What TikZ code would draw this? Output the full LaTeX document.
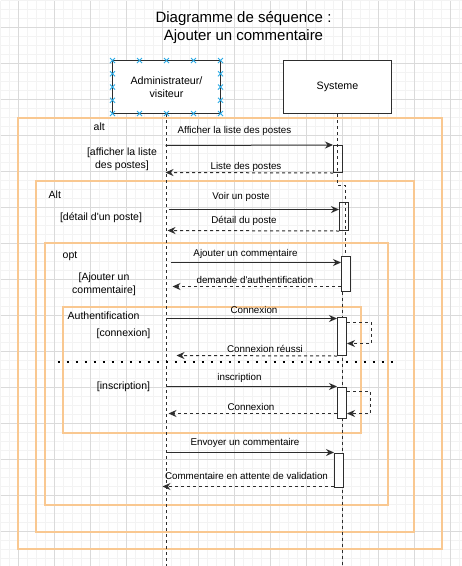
\documentclass[tikz,border=0pt]{standalone}
\usepackage{fontspec}
\setmainfont{Liberation Sans}
\usetikzlibrary{arrows.meta}
\usetikzlibrary{positioning}

\definecolor{framecol}{RGB}{249,200,145}
\definecolor{handlecol}{RGB}{41,170,230}
\definecolor{gridminor}{RGB}{243,243,243}
\definecolor{gridmajor}{RGB}{218,218,218}
\definecolor{linecol}{RGB}{45,45,45}

\tikzset{
	actor/.style={draw=linecol, line width=1pt, fill=white, minimum width=108pt, minimum height=53pt, align=center, font=\fontsize{10.7}{13}\selectfont},
	lifeline/.style={draw=linecol, line width=0.9pt, dash pattern=on 3pt off 3pt},
	activation/.style={draw=linecol, line width=1pt, fill=white, minimum width=9pt, inner sep=0pt},
	msg/.style={draw=linecol, line width=1pt, -{Stealth[length=8pt,width=7pt]}},
	ret/.style={msg, dash pattern=on 3pt off 3pt},
	fragbox/.style={draw=framecol, line width=2pt},
	msglabel/.style={font=\fontsize{9.8}{11}\selectfont, inner sep=0pt, text height=7pt, text depth=2pt},
	guard/.style={font=\fontsize{10.5}{13}\selectfont, align=center, inner sep=0pt},
	title/.style={font=\fontsize{15}{18}\selectfont, align=center, inner sep=0pt}
}

\begin{document}
\begin{tikzpicture}[x=1pt,y=-1pt]
	\useasboundingbox (0,0) rectangle (462,566);
	\fill[white] (0,0) rectangle (462,566);
	\begin{scope}[shift={(0.5,0.5)}]
	\draw[gridminor, step=9pt] (0,566) grid (462,0);
	\draw[gridmajor, step=36pt, shift={(18,27)}] (-18,539) grid (444,-27);
	\end{scope}
	
	\draw[fragbox] (18,118) rectangle (442,549);
	\draw[fragbox] (36,181) rectangle (414,532);
	\draw[fragbox] (45,243) rectangle (388,505);
	\draw[fragbox] (63,307) rectangle (361,433);
	
	\begin{scope}[shift={(0.5,0.5)}]
	\node[title] (title) at (243,27) {Diagramme de séquence :\\Ajouter un commentaire};
	
	\node[actor] (admin) at (166,86.5) {Administrateur/\\visiteur};
	\node[actor] (sys) at (337,86.5) {Systeme};
	
	\path (166,566) coordinate(aEnd)
	(337,185) coordinate(s1)
	(345,185) coordinate(s2)
	(345,256) coordinate(s3)
	(342,291) coordinate(s4)
	(342,566) coordinate(sEnd);
	\draw[lifeline] (admin.south) -- (aEnd);
	\draw[lifeline] (sys.south) -- (s1) -- (s2) -- (s3);
	\draw[lifeline] (s4) -- (sEnd);
	
	\foreach \hx in {112,139,166,193,220}
	\foreach \hy in {60,113}
	\draw[handlecol, line width=0.8pt] (\hx,\hy) +(-2.5,-2.5) -- +(2.5,2.5) +(-2.5,2.5) -- +(2.5,-2.5);
	\foreach \hx in {112,220}
	\foreach \hy in {73.25,86.5,99.75}
	\draw[handlecol, line width=0.8pt] (\hx,\hy) +(-2.5,-2.5) -- +(2.5,2.5) +(-2.5,2.5) -- +(2.5,-2.5);
	
	\node[activation, fill=none, minimum height=27pt] (act1) at (337.5,158.5) {};
	\node[activation, fill=none, minimum height=28pt] (act2) at (343.5,216) {};
	\node[activation, minimum height=35pt] (act3) at (345.5,273.5) {};
	\node[activation, minimum height=38pt] (act4) at (341.5,336) {};
	\node[activation, minimum height=31pt] (act5) at (341.5,402.5) {};
	\node[activation, minimum height=34pt] (act6) at (338.5,470) {};
	
	\path (165,145) coordinate(a1)
	(165,172) coordinate(a2)
	(168,209) coordinate(a3)
	(167,230) coordinate(a4)
	(170,262) coordinate(a5)
	(172,286) coordinate(a6)
	(166,318) coordinate(a7)
	(176,355) coordinate(a8)
	(166,386) coordinate(a9)
	(168,413) coordinate(a10)
	(166,452) coordinate(a11)
	(162,486) coordinate(a12)
	(371,322) coordinate(k1)
	(371,343) coordinate(k2)
	(370,391) coordinate(k3)
	(370,413) coordinate(k4);
	
	\draw[msg] (a1) -- (act1.north west);
	\draw[ret] (act1.south west) -- (a2);
	\draw[msg] (a3) -- (act2.west |- a3);
	\draw[ret] (act2.south west) -- (a4);
	\draw[msg] (a5) -- (act3.west |- a5);
	\draw[ret] (act3.west |- a6) -- (a6);
	\draw[msg] (a7) -- (act4.west |- a7);
	\draw[ret] (act4.east |- k1) -- (k1) -- (k2) -- (act4.east |- k2);
	\draw[ret] (act4.south west) -- (a8);
	\draw[msg] (a9) -- (act5.west |- a9);
	\draw[ret] (act5.east |- k3) -- (k3) -- (k4) -- (act5.east |- k4);
	\draw[ret] (act5.west |- a10) -- (a10);
	\draw[msg] (a11) -- (act6.west |- a11);
	\draw[ret] (act6.west |- a12) -- (a12);
	
	\node[msglabel] (l1) at (234,130.7) {Afficher la liste des postes};
	\node[msglabel] (l2) at (245.5,166.7) {Liste des postes};
	\node[msglabel] (l3) at (240.5,196.7) {Voir un poste};
	\node[msglabel] (l4) at (243.5,220.7) {Détail du poste};
	\node[msglabel] (l5) at (245,253) {Ajouter un commentaire};
	\node[msglabel] (l6) at (254.5,280) {demande d\textquotesingle authentification};
	\node[msglabel] (l7) at (253.5,310) {Connexion};
	\node[msglabel] (l8) at (264.5,349) {Connexion réussi};
	\node[msglabel] (l9) at (239,377.7) {inscription};
	\node[msglabel] (l10) at (250.5,407.3) {Connexion};
	\node[msglabel] (l11) at (244.5,442.7) {Envoyer un commentaire};
	\node[msglabel] (l12) at (246,476.7) {Commentaire en attente de validation};
	
	\node[guard, anchor=west] (altA) at (93,126) {alt};
	\node[guard] (g1) at (121.5,158.5) {[afficher la liste\\des postes]};
	\node[guard, anchor=west] (altB) at (48,194) {Alt};
	\node[guard] (g2) at (100.5,217) {[détail d\textquotesingle un poste]};
	\node[guard, anchor=west] (optC) at (62,256) {opt};
	\node[guard] (g3) at (103.5,283.5) {[Ajouter un\\commentaire]};
	\node[guard, anchor=west] (authD) at (67,315) {Authentification};
	\node[guard] (g4) at (123,333) {[connexion]};
	\node[guard] (g5) at (123,386) {[inscription]};
	
	\draw[line width=2pt, dash pattern=on 2pt off 7pt] (57,361) -- (398,361);
	\end{scope}
\end{tikzpicture}
\end{document}
